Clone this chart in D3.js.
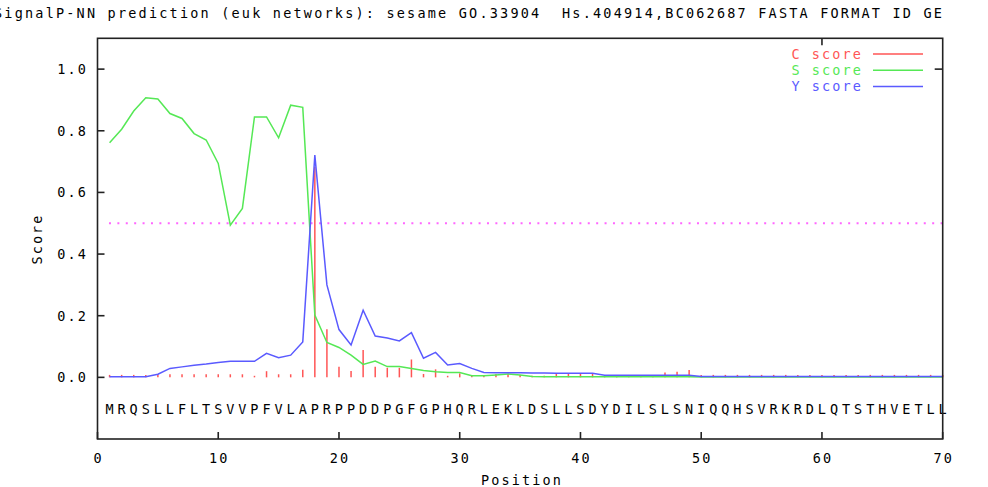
<!DOCTYPE html>
<html>
<head>
<meta charset="utf-8">
<script src="https://cdn.jsdelivr.net/npm/d3@7"></script>
<style>
  body { margin: 0; background: #fff; }
  text { font-family: "DejaVu Sans Mono", monospace; font-size: 13.5px; letter-spacing: 2.1px; fill: #000; }
  .title { white-space: pre; letter-spacing: 2.2px; }
</style>
</head>
<body>
<div id="chart"></div>
<script>
// sequence, one residue per position (1..70)
var sequence = "MRQSLLFLTSVVPFVLAPRPPDDPGFGPHQRLEKLDSLLSDYDILSLSNIQQHSVRKRDLQTSTHVETLL".split("");

var cScore = [0.008, 0.008, 0.008, 0.008, 0.01, 0.01, 0.01, 0.01, 0.01, 0.01,
  0.01, 0.01, 0.005, 0.02, 0.01, 0.01, 0.025, 0.683, 0.156, 0.034,
  0.021, 0.089, 0.034, 0.031, 0.031, 0.058, 0.011, 0.026, 0.005, 0.013,
  0.005, 0.005, 0.011, 0.011, 0.008, 0.005, 0.005, 0.011, 0.011, 0.011,
  0.011, 0.004, 0.004, 0.004, 0.004, 0.004, 0.016, 0.018, 0.024, 0.008,
  0.008, 0.008, 0.008, 0.008, 0.008, 0.008, 0.008, 0.008, 0.008, 0.008,
  0.008, 0.008, 0.008, 0.008, 0.008, 0.008, 0.008, 0.008, 0.008, 0.008];

var sScore = [0.761, 0.805, 0.864, 0.907, 0.903, 0.856, 0.840, 0.791, 0.770, 0.694,
  0.494, 0.548, 0.845, 0.845, 0.777, 0.883, 0.876, 0.202, 0.113, 0.097,
  0.072, 0.042, 0.053, 0.035, 0.035, 0.029, 0.022, 0.018, 0.016, 0.016,
  0.005, 0.005, 0.008, 0.011, 0.008, 0.003, 0.002, 0.002, 0.002, 0.002,
  0.002, 0.002, 0.002, 0.002, 0.002, 0.002, 0.002, 0.002, 0.002, 0.001,
  0.001, 0.001, 0.001, 0.001, 0.001, 0.001, 0.001, 0.001, 0.001, 0.001,
  0.001, 0.001, 0.001, 0.001, 0.001, 0.001, 0.001, 0.001, 0.001, 0.001];

var yScore = [0.002, 0.002, 0.002, 0.002, 0.01, 0.029, 0.034, 0.039, 0.043, 0.048,
  0.052, 0.052, 0.052, 0.078, 0.064, 0.072, 0.115, 0.721, 0.30, 0.155,
  0.105, 0.218, 0.134, 0.128, 0.118, 0.145, 0.062, 0.081, 0.04, 0.045,
  0.029, 0.016, 0.015, 0.015, 0.015, 0.014, 0.014, 0.013, 0.013, 0.013,
  0.013, 0.007, 0.007, 0.007, 0.007, 0.007, 0.007, 0.007, 0.007, 0.003,
  0.003, 0.003, 0.003, 0.003, 0.003, 0.003, 0.003, 0.003, 0.003, 0.003,
  0.003, 0.003, 0.003, 0.003, 0.003, 0.003, 0.003, 0.003, 0.003, 0.003];

var xTicks = [0, 10, 20, 30, 40, 50, 60, 70];
var yTicks = [0.0, 0.2, 0.4, 0.6, 0.8, 1.0];
var cutoff = 0.5;
var titleText = "SignalP-NN prediction (euk networks): sesame GO.33904  Hs.404914,BC062687 FASTA FORMAT ID GE";

var svgWidth = 988;
var svgHeight = 487;

var svg = d3.select("#chart")
  .append("svg")
  .attr("width", svgWidth)
  .attr("height", svgHeight)
  .style("display", "block");

var xScale = d3.scaleLinear().domain([0, 70]).range([97.5, 942.7]);
var yScale = d3.scaleLinear().domain([-0.2, 1.1]).range([439, 38.3]);

var data = sequence.map(function(aa, i) {
  return { pos: i + 1, aa: aa, c: cScore[i], s: sScore[i], y: yScore[i] };
});

var red = "#ff5555", green = "#55e855", blue = "#5a5aff";

// title, clipped on the left like the original
svg.append("text")
  .attr("class", "title")
  .attr("x", -6)
  .attr("y", 18)
  .text(titleText);

// cutoff line
svg.append("line")
  .attr("x1", xScale(0.95)).attr("x2", xScale(70))
  .attr("y1", yScale(cutoff)).attr("y2", yScale(cutoff))
  .attr("stroke", "#ff66ff")
  .attr("stroke-width", 2)
  .attr("stroke-dasharray", "2,6.4");

// C score impulses
svg.selectAll(".cbar")
  .data(data)
  .enter()
  .append("line")
  .attr("class", "cbar")
  .attr("x1", d => xScale(d.pos)).attr("x2", d => xScale(d.pos))
  .attr("y1", yScale(0)).attr("y2", d => yScale(d.c))
  .attr("stroke", red)
  .attr("stroke-width", 1.5);

var line = function(key) {
  return d3.line().x(d => xScale(d.pos)).y(d => yScale(d[key]));
};

svg.append("path").datum(data)
  .attr("d", line("s"))
  .attr("fill", "none").attr("stroke", green).attr("stroke-width", 1.5);

svg.append("path").datum(data)
  .attr("d", line("y"))
  .attr("fill", "none").attr("stroke", blue).attr("stroke-width", 1.5);

// sequence letters
svg.selectAll(".aa")
  .data(data)
  .enter()
  .append("text")
  .attr("class", "aa")
  .attr("x", d => xScale(d.pos) + 1)
  .attr("y", 414.3)
  .attr("text-anchor", "middle")
  .text(d => d.aa);

// frame
svg.append("rect")
  .attr("x", xScale(0)).attr("y", yScale(1.1))
  .attr("width", xScale(70) - xScale(0))
  .attr("height", yScale(-0.2) - yScale(1.1))
  .attr("fill", "none")
  .attr("stroke", "#222")
  .attr("stroke-width", 1.6);

// ticks (inward) + labels
var bottomAxis = svg.append("g");
xTicks.forEach(function(t) {
  bottomAxis.append("line")
    .attr("x1", xScale(t)).attr("x2", xScale(t))
    .attr("y1", yScale(-0.2)).attr("y2", yScale(-0.2) - 7)
    .attr("stroke", "#222").attr("stroke-width", 1.6);
  bottomAxis.append("text")
    .attr("x", xScale(t) + 1)
    .attr("y", 463)
    .attr("text-anchor", "middle")
    .text(t);
});

var leftAxis = svg.append("g");
yTicks.forEach(function(t) {
  leftAxis.append("line")
    .attr("x1", xScale(0)).attr("x2", xScale(0) + 7)
    .attr("y1", yScale(t)).attr("y2", yScale(t))
    .attr("stroke", "#222").attr("stroke-width", 1.6);
  leftAxis.append("text")
    .attr("x", 88)
    .attr("y", yScale(t) + 5)
    .attr("text-anchor", "end")
    .text(d3.format(".1f")(t));
});

// mirrored ticks that show in the original
svg.append("line")
  .attr("x1", xScale(60)).attr("x2", xScale(60))
  .attr("y1", yScale(1.1)).attr("y2", yScale(1.1) + 7)
  .attr("stroke", "#222").attr("stroke-width", 1.6);
svg.append("line")
  .attr("x1", xScale(70)).attr("x2", xScale(70) - 8)
  .attr("y1", yScale(1.0)).attr("y2", yScale(1.0))
  .attr("stroke", "#222").attr("stroke-width", 1.6);

// axis labels
svg.append("text")
  .attr("x", 522)
  .attr("y", 485)
  .attr("text-anchor", "middle")
  .text("Position");

svg.append("text")
  .attr("transform", "translate(42, 239) rotate(-90)")
  .attr("text-anchor", "middle")
  .text("Score");

// legend
var legend = [
  { name: "C score", color: red },
  { name: "S score", color: green },
  { name: "Y score", color: blue }
];
legend.forEach(function(l, i) {
  var ly = 54 + i * 16.2;
  svg.append("text")
    .attr("x", 863)
    .attr("y", ly + 5)
    .attr("text-anchor", "end")
    .style("fill", l.color)
    .text(l.name);
  svg.append("line")
    .attr("x1", 873).attr("x2", 923)
    .attr("y1", ly).attr("y2", ly)
    .attr("stroke", l.color).attr("stroke-width", 1.5);
});
</script>
</body>
</html>
